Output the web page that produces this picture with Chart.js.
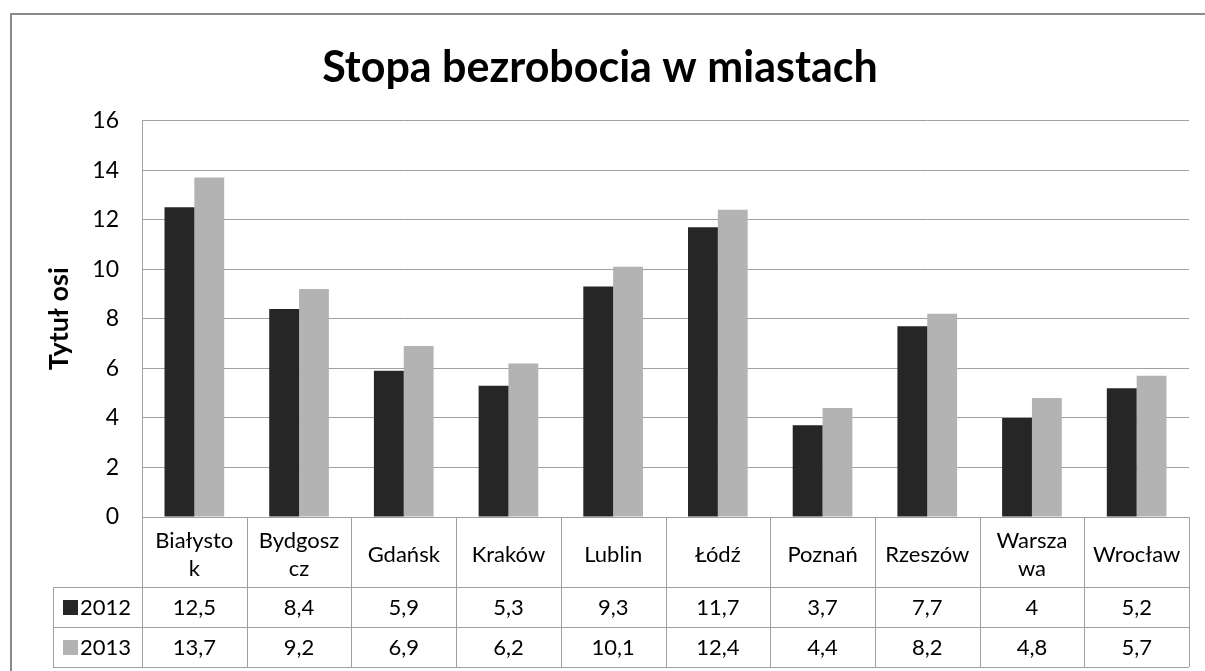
<!DOCTYPE html>
<html>
<head>
<meta charset="utf-8">
<script src="https://cdn.jsdelivr.net/npm/chart.js@4"></script>
<style>
  html, body { margin: 0; padding: 0; background: #fff; }
  #wrap { width: 1205px; height: 671px; position: relative; }
</style>
</head>
<body>
<div id="wrap"><canvas id="chart" width="1205" height="671"></canvas></div>
<script>
const cities = [['Białysto', 'k'], ['Bydgosz', 'cz'], 'Gdańsk', 'Kraków', 'Lublin', 'Łódź', 'Poznań', 'Rzeszów', ['Warsza', 'wa'], 'Wrocław'];
const years = ['2012', '2013'];
const values2012 = [12.5, 8.4, 5.9, 5.3, 9.3, 11.7, 3.7, 7.7, 4, 5.2];
const values2013 = [13.7, 9.2, 6.9, 6.2, 10.1, 12.4, 4.4, 8.2, 4.8, 5.7];
const yTicks = [0, 2, 4, 6, 8, 10, 12, 14, 16];

const colors = ['#262626', '#b3b3b3'];
const FONT = 'Lato, "Open Sans", sans-serif';
const HEADER_H = 70;
const ROW_H = 40;

// draws the frame and the data table below the axis
const tablePlugin = {
  id: 'dataTable',
  beforeDraw(chart) {
    const ctx = chart.ctx;
    ctx.save();
    ctx.strokeStyle = '#8a8a8a';
    ctx.lineWidth = 2;
    ctx.beginPath();
    ctx.moveTo(11, 671);
    ctx.lineTo(11, 14);
    ctx.lineTo(1205, 14);
    ctx.stroke();
    ctx.restore();
  },
  afterDraw(chart) {
    const ctx = chart.ctx;
    const x = chart.scales.x;
    const area = chart.chartArea;
    const half = (x.getPixelForValue(1) - x.getPixelForValue(0)) / 2;
    const top = area.bottom;
    const headBottom = top + HEADER_H;
    const bottom = headBottom + ROW_H * 2;
    const legendLeft = 53;

    ctx.save();
    ctx.strokeStyle = '#a0a0a0';
    ctx.lineWidth = 1;
    ctx.beginPath();
    // verticals at category edges
    for (let i = 0; i <= cities.length; i++) {
      const px = Math.round(x.getPixelForValue(i) - half) + 0.5;
      ctx.moveTo(px, top);
      ctx.lineTo(px, bottom);
    }
    ctx.moveTo(legendLeft + 0.5, headBottom);
    ctx.lineTo(legendLeft + 0.5, bottom);
    for (let r = 0; r <= 2; r++) {
      const py = Math.round(headBottom + r * ROW_H) + 0.5;
      ctx.moveTo(legendLeft, py);
      ctx.lineTo(area.right, py);
    }
    ctx.stroke();

    ctx.fillStyle = '#000';
    ctx.font = '22px ' + FONT;
    ctx.textAlign = 'center';
    ctx.textBaseline = 'middle';
    cities.forEach((c, i) => {
      const cx = x.getPixelForValue(i);
      const cy = top + 38;
      if (Array.isArray(c)) {
        ctx.fillText(c[0], cx, cy - 14);
        ctx.fillText(c[1], cx, cy + 14);
      } else {
        ctx.fillText(c, cx, cy);
      }
    });

    chart.data.datasets.forEach((ds, r) => {
      const cy = headBottom + ROW_H * r + ROW_H / 2 + 1;
      ds.data.forEach((v, i) => {
        ctx.fillStyle = '#000';
        ctx.textAlign = 'center';
        ctx.fillText(String(v).replace('.', ','), x.getPixelForValue(i), cy);
      });
      ctx.fillStyle = ds.backgroundColor;
      ctx.fillRect(63, cy - 8, 15, 15);
      ctx.fillStyle = '#000';
      ctx.textAlign = 'left';
      ctx.fillText(ds.label, 80, cy);
    });
    ctx.restore();
  }
};

new Chart(document.getElementById('chart'), {
  type: 'bar',
  data: {
    labels: cities,
    datasets: [
      { label: years[0], data: values2012, backgroundColor: colors[0] },
      { label: years[1], data: values2013, backgroundColor: colors[1] },
    ],
  },
  options: {
    responsive: false,
    animation: false,
    events: [],
    layout: { padding: { left: 11, right: 16, top: 0, bottom: ROW_H * 2 + 4 } },
    datasets: { bar: { categoryPercentage: 0.57, barPercentage: 1 } },
    plugins: {
      legend: { display: false },
      tooltip: { enabled: false },
      title: {
        display: true,
        text: 'Stopa bezrobocia w miastach',
        color: '#000',
        font: { family: FONT, size: 43, weight: 'bold' },
        padding: { top: 42, bottom: 27 },
      },
    },
    scales: {
      x: {
        ticks: { display: false },
        grid: { display: false },
        border: { color: '#a0a0a0' },
        afterFit: (s) => { s.height = HEADER_H; },
      },
      y: {
        min: 0,
        max: 16,
        afterBuildTicks: (s) => { s.ticks = yTicks.map((v) => ({ value: v })); },
        afterFit: (s) => { s.width = 131; },
        ticks: { color: '#000', padding: 23, font: { family: FONT, size: 23 } },
        grid: { color: '#a0a0a0', tickLength: 0 },
        border: { color: '#a0a0a0' },
        title: {
          display: true,
          text: 'Tytuł osi',
          color: '#000',
          font: { family: FONT, size: 27, weight: 'bold' },
          padding: { top: 32, bottom: 0 },
        },
      },
    },
  },
  plugins: [tablePlugin],
});
</script>
</body>
</html>
